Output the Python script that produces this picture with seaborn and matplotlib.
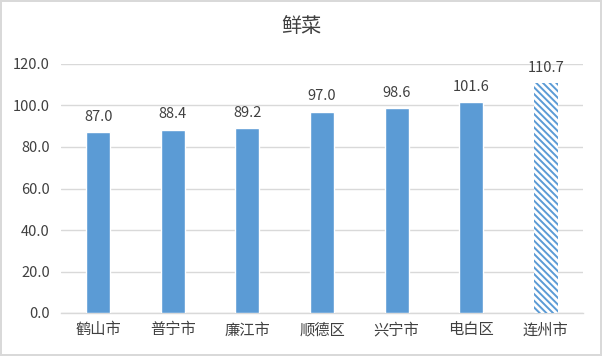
import matplotlib
matplotlib.use("Agg")
import matplotlib.pyplot as plt
import pandas as pd
import seaborn as sns

CATEGORIES = ["鹤山市", "普宁市", "廉江市", "顺德区", "兴宁市", "电白区", "连州市"]
VALUES = [87.0, 88.4, 89.2, 97.0, 98.6, 101.6, 110.7]
Y_TICKS = [0, 20, 40, 60, 80, 100, 120]
TITLE = "鲜菜"

BLUE = "#5B9BD5"
TEXT = "#404040"
GRID = "#d9d9d9"

sns.set_style("white")
plt.rcParams["font.family"] = ["Noto Sans CJK SC", "DejaVu Sans"]
plt.rcParams["hatch.color"] = BLUE
plt.rcParams["hatch.linewidth"] = 1.4

df = pd.DataFrame({"city": CATEGORIES, "value": VALUES})

fig = plt.figure(figsize=(6.02, 3.56), dpi=100, edgecolor=GRID, linewidth=1.5)
ax = fig.add_axes([61 / 602, 1 - 313 / 356, (583 - 61) / 602, (313 - 64) / 356])

sns.barplot(data=df, x="city", y="value", color=BLUE, width=0.32,
            saturation=1, ax=ax, zorder=3)

# last bar is hatched (white fill, blue diagonal stripes)
last = ax.patches[len(CATEGORIES) - 1]
last.set_facecolor("white")
last.set_edgecolor(BLUE)
last.set_linewidth(0)
last.set_hatch("\\\\\\\\\\")

ax.bar_label(ax.containers[0], labels=[f"{v:.1f}" for v in VALUES],
             padding=6, fontsize=10.5, color=TEXT)

ax.set_ylim(0, 120)
ax.set_yticks(Y_TICKS)
ax.set_yticklabels([f"{t:.1f}" for t in Y_TICKS], fontsize=10.5, color=TEXT)
ax.set_xlim(-0.5, len(CATEGORIES) - 0.5)
ax.tick_params(axis="x", labelsize=11, colors=TEXT, length=0, pad=6)
ax.tick_params(axis="y", length=0, pad=8)
ax.set_xlabel("")
ax.set_ylabel("")
ax.yaxis.grid(True, color=GRID, linewidth=1, zorder=0)
ax.set_axisbelow(True)
for side in ["top", "left", "right"]:
    ax.spines[side].set_visible(False)
ax.spines["bottom"].set_color(GRID)
ax.spines["bottom"].set_linewidth(1)

fig.text(0.5, 1 - 27 / 356, TITLE, ha="center", va="center", fontsize=14.5, color=TEXT)

fig.savefig("out.png", dpi=100)
